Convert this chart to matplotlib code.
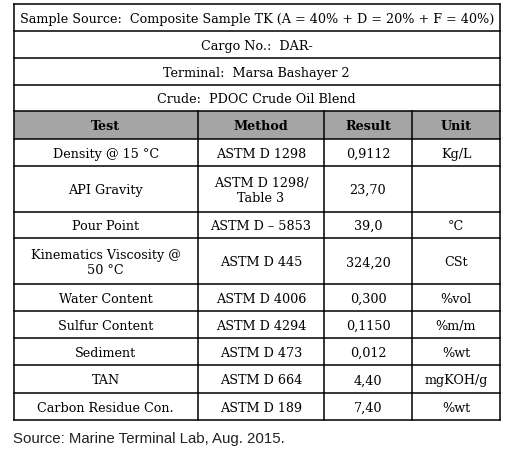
import matplotlib
matplotlib.use("Agg")
from matplotlib import pyplot as plt

title_rows = [
    "Sample Source:  Composite Sample TK (A = 40% + D = 20% + F = 40%)",
    "Cargo No.:  DAR-",
    "Terminal:  Marsa Bashayer 2",
    "Crude:  PDOC Crude Oil Blend",
]
headers = ["Test", "Method", "Result", "Unit"]
tests = ["Density @ 15 °C", "API Gravity", "Pour Point", "Kinematics Viscosity @\n50 °C",
         "Water Content", "Sulfur Content", "Sediment", "TAN", "Carbon Residue Con."]
methods = ["ASTM D 1298", "ASTM D 1298/\nTable 3", "ASTM D – 5853", "ASTM D 445",
           "ASTM D 4006", "ASTM D 4294", "ASTM D 473", "ASTM D 664", "ASTM D 189"]
results = ["0,9112", "23,70", "39,0", "324,20", "0,300", "0,1150", "0,012", "4,40", "7,40"]
units = ["Kg/L", "", "°C", "CSt", "%vol", "%m/m", "%wt", "mgKOH/g", "%wt"]
source = "Source: Marine Terminal Lab, Aug. 2015."

# layout in pixels
col_x = [13.5, 198, 324, 412, 500]
row_y = [4.5, 32, 59, 86, 112, 140, 167, 212.5, 239, 285, 312, 339, 366, 394, 421]

fig = plt.figure(figsize=(5.08, 4.56), dpi=100)
ax = fig.add_axes([0, 0, 1, 1])
ax.set_xlim(0, 508)
ax.set_ylim(456, 0)
ax.axis("off")

font = dict(family="DejaVu Serif", fontsize=9.2, color="black", ha="center", va="center")

# header background
ax.fill_between([col_x[0], col_x[-1]], row_y[4], row_y[5], color="#a5a5a5", lw=0)

for i, t in enumerate(title_rows):
    ax.text((col_x[0] + col_x[-1]) / 2, (row_y[i] + row_y[i + 1]) / 2 + 1, t, **font)
for j, h in enumerate(headers):
    ax.text((col_x[j] + col_x[j + 1]) / 2, (row_y[4] + row_y[5]) / 2 + 1, h,
            fontweight="bold", **font)
for r, cells in enumerate(zip(tests, methods, results, units)):
    yc = (row_y[5 + r] + row_y[6 + r]) / 2 + 1
    for j, c in enumerate(cells):
        ax.text((col_x[j] + col_x[j + 1]) / 2, yc, c, linespacing=1.2, **font)

lw = 1.1
for y in row_y:
    ax.plot([col_x[0], col_x[-1]], [y, y], color="black", lw=lw)
ax.plot([col_x[0]] * 2, [row_y[0], row_y[-1]], color="black", lw=lw)
ax.plot([col_x[-1]] * 2, [row_y[0], row_y[-1]], color="black", lw=lw)
for x in col_x[1:-1]:
    ax.plot([x, x], [row_y[4], row_y[-1]], color="black", lw=lw)

ax.text(13, 439, source, family="Liberation Sans", fontsize=10.8, color="#222222",
        ha="left", va="center")

fig.savefig("out.png", dpi=100)
